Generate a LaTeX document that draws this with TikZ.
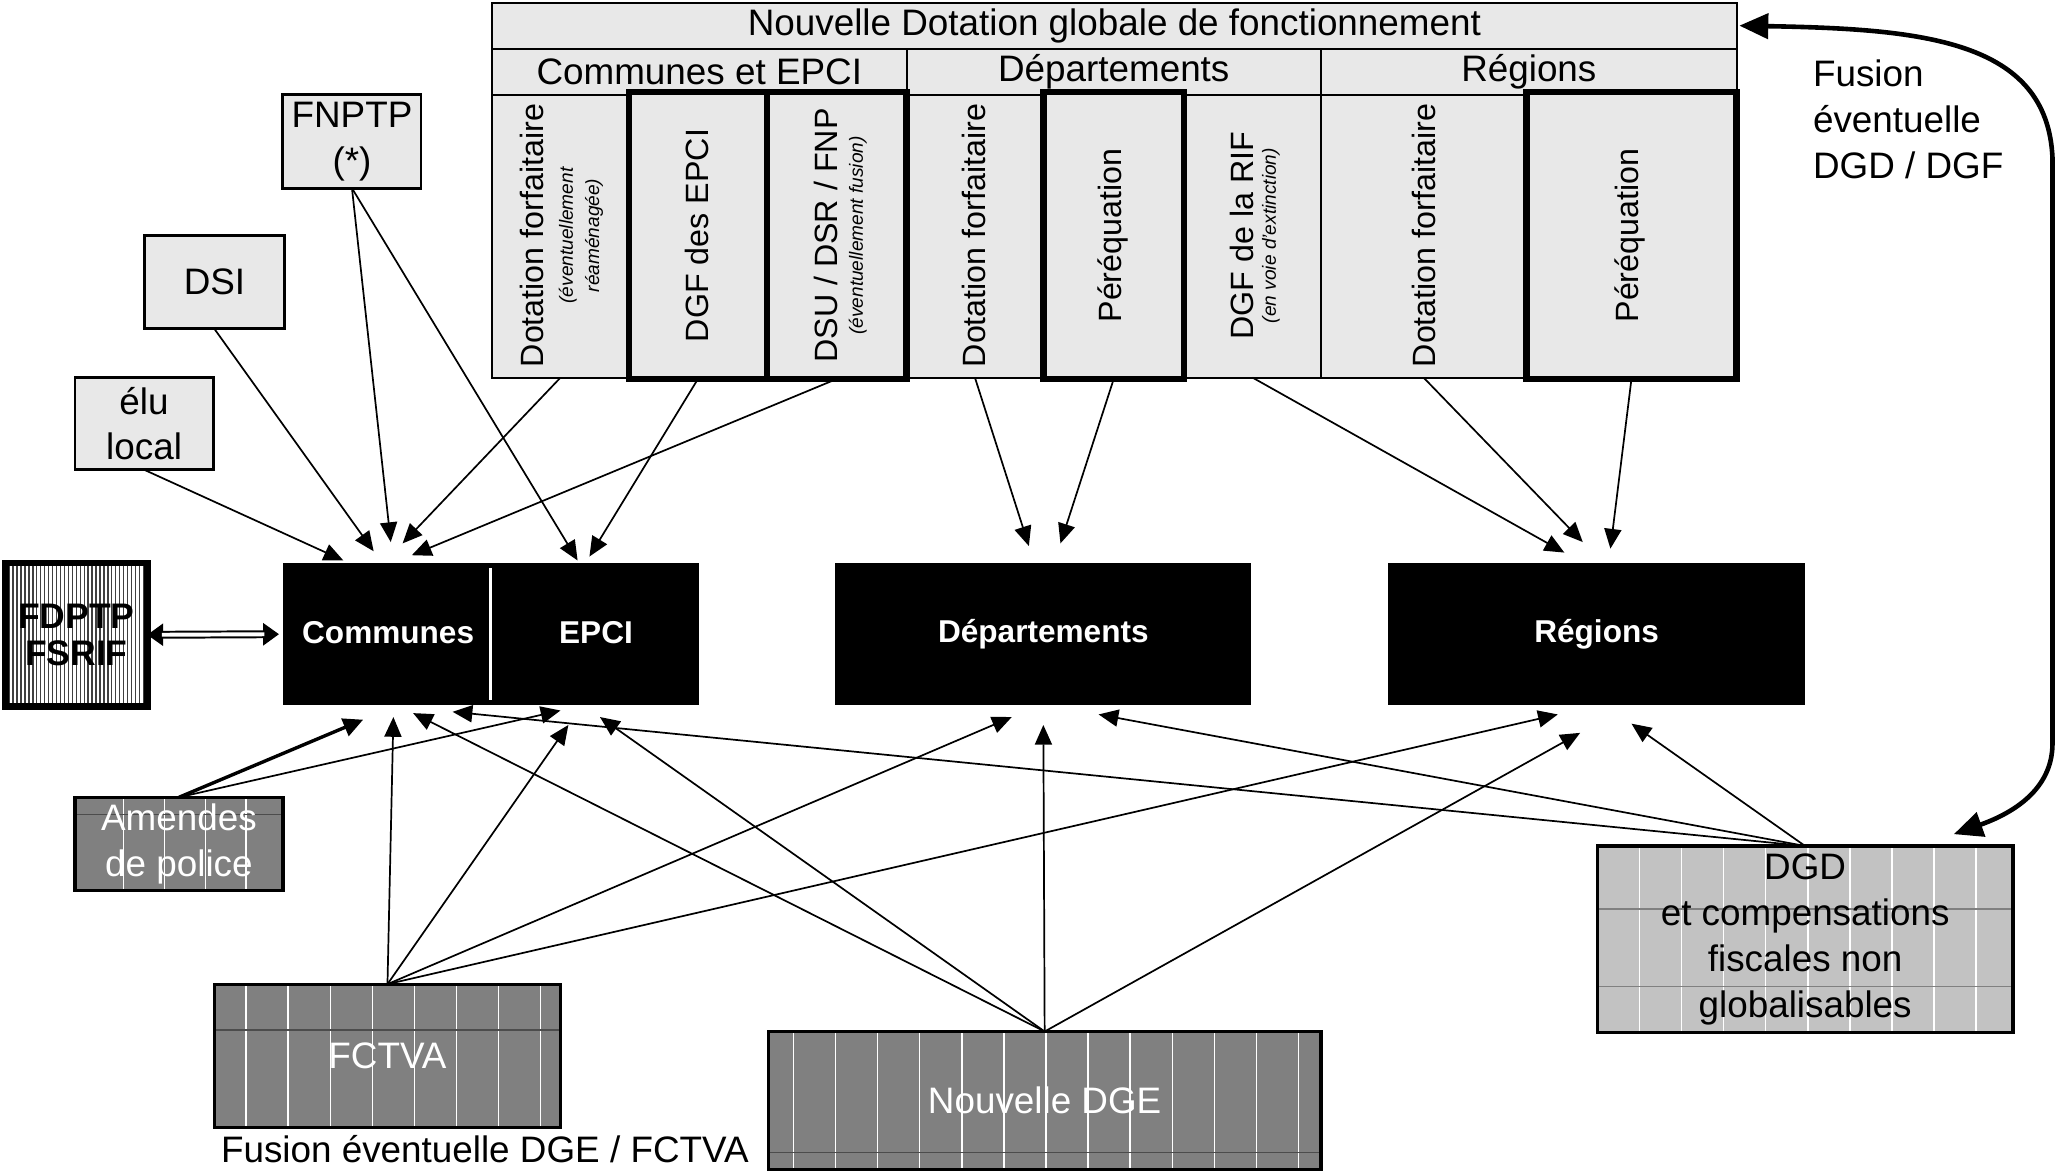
\documentclass[tikz,border=0pt]{standalone}
\usepackage{fontspec}
\setmainfont{Liberation Sans}
\usetikzlibrary{arrows.meta}
\definecolor{dotfill}{gray}{0.91}
\definecolor{darkfill}{gray}{0.5}
\definecolor{dgdfill}{gray}{0.76}
\definecolor{hline}{gray}{0.3}
\begin{document}
\begin{tikzpicture}[x=1pt,y=-1pt,
  every node/.style={inner sep=0pt, outer sep=0pt},
  f28/.style={font=\fontsize{28}{35}\selectfont},
  f24/.style={font=\fontsize{24.5}{30}\selectfont},
  fsmall/.style={font=\fontsize{14.5}{20}\selectfont\itshape},
  cell/.style={draw, line width=1.5pt, fill=dotfill},
  thickcell/.style={draw, line width=5pt, fill=dotfill},
  lbox/.style={draw, line width=2.2pt, fill=dotfill, f28, align=center},
  bbox/.style={fill=black, text=white, font=\fontsize{24}{28}\selectfont\bfseries},
  btxt/.style={text=white, font=\fontsize{24}{28}\selectfont\bfseries},
  dbox/.style={draw, line width=2.5pt, fill=darkfill, text=white, f28, align=center},
  stripe/.style={white, line width=1.1pt},
  hstripe/.style={hline, line width=1.1pt},
  arr/.style={line width=1.3pt, -{Triangle[length=15pt,width=13pt]}},
  arrB/.style={line width=2.6pt, -{Triangle[length=15pt,width=14pt]}}
]
\useasboundingbox (0,0) rectangle (1568,892);

% ---------- top table ----------
\node[cell, minimum width=946, minimum height=35, f28] (title) at (847,19.5) {Nouvelle Dotation globale de fonctionnement};
\node[cell, minimum width=315, minimum height=35, f28] (hC) at (531.5,54.5) {Communes et EPCI};
\node[cell, minimum width=315, minimum height=35, f28] (hD) at (846.5,54.5) {Départements};
\node[cell, minimum width=316, minimum height=35, f28] (hR) at (1162,54.5) {Régions};

\node[cell, minimum width=104, minimum height=215] (c1) at (426,179.5) {};
\node[cell, minimum width=104, minimum height=215] (c4) at (741,179.5) {};
\node[cell, minimum width=104, minimum height=215] (c6) at (952,179.5) {};
\node[cell, minimum width=156, minimum height=215] (c7) at (1082,179.5) {};
\node[thickcell, minimum width=105, minimum height=218] (c2) at (530.5,179) {};
\node[thickcell, minimum width=106, minimum height=218] (c3) at (636,179) {};
\node[thickcell, minimum width=107, minimum height=218] (c5) at (846.5,179) {};
\node[thickcell, minimum width=160, minimum height=218] (c8) at (1240,179) {};

\node[rotate=90, f24] (l1) at (404,179) {Dotation forfaitaire};
\node[rotate=90, fsmall, align=center] (l1i) at (441.5,179) {(éventuellement\\réaménagée)};
\node[rotate=90, f24] (l2) at (530,179) {DGF des EPCI};
\node[rotate=90, f24] (l3) at (628,179) {DSU / DSR / FNP};
\node[rotate=90, fsmall] (l3i) at (652,179) {(éventuellement fusion)};
\node[rotate=90, f24] (l4) at (740,179) {Dotation forfaitaire};
\node[rotate=90, f24] (l5) at (846,179) {Péréquation};
\node[rotate=90, f24] (l6) at (944,179) {DGF de la RIF};
\node[rotate=90, fsmall] (l6i) at (966,179) {(en voie d'extinction)};
\node[rotate=90, f24] (l7) at (1082,179) {Dotation forfaitaire};
\node[rotate=90, f24] (l8) at (1239,179) {Péréquation};

\node[f28, anchor=west, align=left] (fusion) at (1378,91) {Fusion\\éventuelle\\DGD / DGF};

% ---------- left boxes ----------
\node[lbox, minimum width=105, minimum height=71] (fnptp) at (267.5,107.5) {FNPTP\\(*)};
\node[lbox, minimum width=106, minimum height=71] (dsi) at (163,214.5) {DSI};
\node[lbox, minimum width=105, minimum height=70, font=\fontsize{28}{34}\selectfont] (elu) at (109.5,322) {élu\\local};

\node[draw, line width=5pt, fill=white, minimum width=108, minimum height=109,
  align=center, font=\fontsize{27}{28}\selectfont\bfseries,
  path picture={\foreach \k in {0,...,36}
    \draw[black!75, line width=1pt] ([xshift={3*\k}]path picture bounding box.north west) -- ([xshift={3*\k}]path picture bounding box.south west);}]
  (fdptp) at (58,482.5) {FDPTP\\FSRIF};

% ---------- black boxes ----------
\node[bbox, minimum width=316, minimum height=108] (ce) at (373,482) {};
\draw[white, line width=2pt] ([yshift=-4pt]ce.north) -- ([yshift=4pt]ce.south);
\node[btxt] (communes) at (295,481) {Communes};
\node[btxt] (epci) at (453,481) {EPCI};
\node[bbox, minimum width=316, minimum height=108] (dep) at (793,482) {Départements};
\node[bbox, minimum width=317, minimum height=108] (reg) at (1213.5,482) {Régions};

% ---------- bottom boxes ----------
\node[dbox, minimum width=158, minimum height=71,
  path picture={\foreach \k in {0,...,3}
    \draw[stripe] ([xshift={37+31*\k}]path picture bounding box.north west) -- ([xshift={37+31*\k}]path picture bounding box.south west);
    \draw[hstripe] ([yshift=-13pt]path picture bounding box.north west) -- ([yshift=-13pt]path picture bounding box.north east);}]
  (amendes) at (136,641.5) {Amendes\\de police};

\node[dbox, minimum width=263, minimum height=109,
  path picture={\foreach \k in {0,...,7}
    \draw[stripe] ([xshift={24+32*\k}]path picture bounding box.north west) -- ([xshift={24+32*\k}]path picture bounding box.south west);
    \draw[hstripe] ([yshift=-35pt]path picture bounding box.north west) -- ([yshift=-35pt]path picture bounding box.north east);}]
  (fctva) at (294.5,802.5) {FCTVA};

\node[dbox, minimum width=420, minimum height=105,
  path picture={\foreach \k in {0,...,12}
    \draw[stripe] ([xshift={19+32*\k}]path picture bounding box.north west) -- ([xshift={19+32*\k}]path picture bounding box.south west);
    \draw[hstripe] ([yshift=13pt]path picture bounding box.south west) -- ([yshift=13pt]path picture bounding box.south east);}]
  (dge) at (794,836.5) {Nouvelle DGE};

\node[draw, line width=2.5pt, fill=dgdfill, minimum width=316, minimum height=142, f28, align=center,
  path picture={\foreach \k in {1,...,9}
    \draw[stripe] ([xshift={32*\k}]path picture bounding box.north west) -- ([xshift={32*\k}]path picture bounding box.south west);
    \draw[gray, line width=1pt] ([yshift=-48pt]path picture bounding box.north west) -- ([yshift=-48pt]path picture bounding box.north east);
    \draw[gray, line width=1pt] ([yshift=-107pt]path picture bounding box.north west) -- ([yshift=-107pt]path picture bounding box.north east);}]
  (dgd) at (1372,714) {DGD\\et compensations\\fiscales non\\globalisables};

\node[f28, anchor=west] (fusion2) at (168,873) {Fusion éventuelle DGE / FCTVA};

% ---------- arrow end points ----------
\coordinate (t1) at (261,426);
\coordinate (t2) at (284,419);
\coordinate (t3) at (297,412);
\coordinate (t4) at (306,413);
\coordinate (t5) at (313,422);
\coordinate (t6) at (439,426);
\coordinate (t7) at (448,423);
\coordinate (t8) at (782,415);
\coordinate (t9) at (806,413);
\coordinate (t10) at (1189,420);
\coordinate (t11) at (1203,412);
\coordinate (t12) at (1224,417);

\coordinate (b1) at (276,547);
\coordinate (b2) at (299,545);
\coordinate (b3) at (314,542);
\coordinate (b4) at (344,541);
\coordinate (b5) at (426,540);
\coordinate (b6) at (432,551);
\coordinate (b7) at (456,545);
\coordinate (d1) at (769,545);
\coordinate (d2) at (793,551);
\coordinate (d3) at (835,543);
\coordinate (r1) at (1184,543);
\coordinate (r2) at (1201,557);
\coordinate (r3) at (1240,550);
\coordinate (dgdtip) at (1485,634);

% ---------- top arrows ----------
\draw[arr] (elu.south) -- (t1);
\draw[arr] (dsi.south) -- (t2);
\draw[arr] (fnptp.south) -- (t3);
\draw[arr] (c1.south) -- (t4);
\draw[arr] (c3.south) -- (t5);
\draw[arr] (fnptp.south) -- (t6);
\draw[arr] (c2.south) -- (t7);
\draw[arr] (c4.south) -- (t8);
\draw[arr] (c5.south) -- (t9);
\draw[arr] (c6.south) -- (t10);
\draw[arr] (c7.south) -- (t11);
\draw[arr] (c8.south) -- (t12);

% ---------- bottom arrows ----------
\draw[arrB] (amendes.north) -- (b1);
\draw[arr] (amendes.north) -- (b5);
\draw[arr] (fctva.north) -- (b2);
\draw[arr] (fctva.north) -- (b6);
\draw[arr] (fctva.north) -- (d1);
\draw[arr] (fctva.north) -- (r1);
\draw[arr] (dge.north) -- (b3);
\draw[arr] (dge.north) -- (b7);
\draw[arr] (dge.north) -- (d2);
\draw[arr] (dge.north) -- (r2);
\draw[arr] (dgd.north) -- (b4);
\draw[arr] (dgd.north) -- (d3);
\draw[arr] (dgd.north) -- (r3);

% ---------- FDPTP double arrow ----------
\draw[line width=1pt, {Triangle[length=12pt,width=17pt]}-{Triangle[length=12pt,width=17pt]}, shorten >=3pt] (fdptp.east) -- (ce.west);
\draw[double, double distance=3pt, line width=1.5pt, shorten <=11pt, shorten >=14pt] (fdptp.east) -- (ce.west);

% ---------- fusion DGD / DGF curved arrow ----------
\draw[line width=3.5pt, {Triangle[length=22pt,width=19pt]}-{Triangle[length=22pt,width=19pt]}]
  ([xshift=2pt]title.east) .. controls (1460,22) and (1556,30) .. (1560,120)
  -- (1560,565) .. controls (1560,600) and (1530,618) .. (dgdtip);
\end{tikzpicture}
\end{document}
